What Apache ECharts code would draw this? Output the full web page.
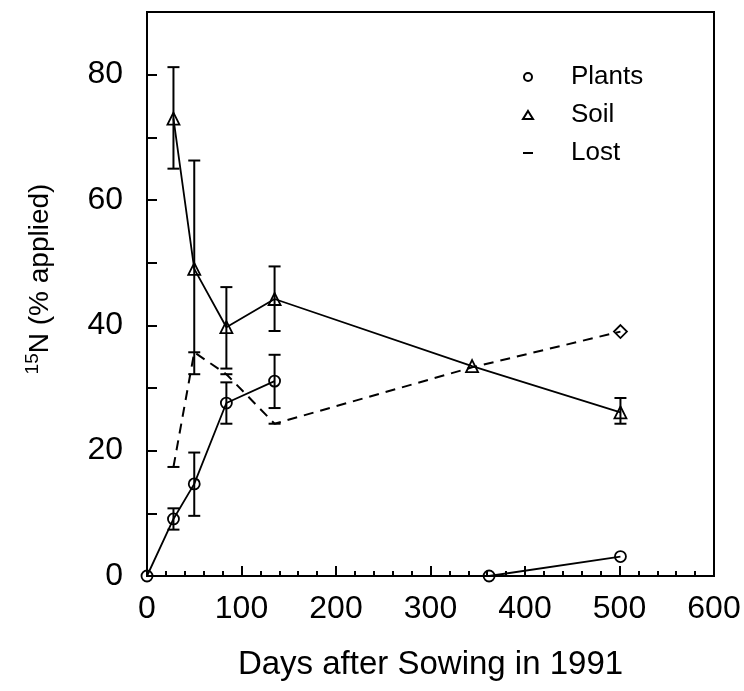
<!DOCTYPE html>
<html>
<head>
<meta charset="utf-8">
<script src="https://cdn.jsdelivr.net/npm/echarts@6/dist/echarts.min.js"></script>
<style>
  html, body { margin: 0; padding: 0; background: #fff; }
  #chart { width: 744px; height: 691px; }
</style>
</head>
<body>
<div id="chart"></div>
<script>
// values
const plantDays = [0, 28, 50, 84, 135, 362, 501]
const plantValues = [0, 9.1, 14.7, 27.6, 31.1, 0, 3.1]
const plantBreakAfter = 135 // the plants line is not drawn from 135 to 362
const soilDays = [28, 50, 84, 135, 344, 501]
const soilValues = [73.0, 49.0, 39.7, 44.2, 33.5, 26.1]
const lostDays = [28, 50, 84, 135, 344, 501]
const lostValues = [17.4, 35.7, 32.2, 24.3, 33.3, 39.0]

const plantErrDays = [28, 50, 84, 135]
const plantErrLow = [7.4, 9.6, 24.3, 26.8]
const plantErrHigh = [10.8, 19.7, 30.9, 35.3]
const soilErrDays = [28, 50, 84, 135, 501]
const soilErrLow = [65.0, 32.2, 33.1, 39.1, 24.3]
const soilErrHigh = [81.2, 66.3, 46.1, 49.4, 28.4]

const FONT = "'Liberation Sans', Arial, sans-serif"

const chart = echarts.init(document.getElementById("chart"))

const renderErrorBar = (params, api) => {
  const x = api.value(0)
  const lo = api.coord([x, api.value(1)])
  const hi = api.coord([x, api.value(2)])
  const half = 6
  const style = { stroke: "#000", lineWidth: 2 }
  return {
    type: "group",
    children: [
      { type: "line", shape: { x1: lo[0], y1: lo[1], x2: hi[0], y2: hi[1] }, style },
      { type: "line", shape: { x1: lo[0] - half, y1: lo[1], x2: lo[0] + half, y2: lo[1] }, style },
      { type: "line", shape: { x1: hi[0] - half, y1: hi[1], x2: hi[0] + half, y2: hi[1] }, style },
    ],
  }
}

const plantData = []
plantDays.forEach((d, i) => {
  plantData.push([d, plantValues[i]])
  if (d === plantBreakAfter) plantData.push([d, "-"])
})

const openStyle = { color: "rgba(0,0,0,0)", borderColor: "#000", borderWidth: 1.8 }

const lostData = lostDays.map((d, i) => {
  if (i === lostDays.length - 1) {
    return { value: [d, lostValues[i]], symbol: "diamond", symbolSize: 13, itemStyle: openStyle }
  }
  if (d === 344) {
    return { value: [d, lostValues[i]], symbol: "none" }
  }
  return { value: [d, lostValues[i]] }
})

const option = {
  backgroundColor: "#fff",
  animation: false,
  textStyle: { fontFamily: FONT, color: "#000" },
  grid: {
    left: 147,
    right: 30,
    top: 12,
    bottom: 115,
    show: true,
    borderColor: "#000",
    borderWidth: 2,
  },
  legend: {
    orient: "vertical",
    left: 517,
    top: 57,
    itemWidth: 10,
    itemHeight: 8,
    itemGap: 8,
    selectedMode: false,
    textStyle: { fontFamily: FONT, fontSize: 26, lineHeight: 30, color: "#000", padding: [0, 0, 0, 33] },
    data: [
      { name: "Plants", icon: "circle" },
      { name: "Soil", icon: "triangle" },
      { name: "Lost", icon: "path://M0,0 L10,0 L10,2 L0,2 Z" },
    ],
  },
  xAxis: {
    type: "value",
    min: 0,
    max: 600,
    interval: 100,
    name: "Days after Sowing in 1991",
    nameLocation: "middle",
    nameGap: 72,
    nameTextStyle: { fontFamily: FONT, fontSize: 33, color: "#000" },
    axisLine: { lineStyle: { color: "#000", width: 2 } },
    axisTick: { inside: true, length: 10, lineStyle: { color: "#000", width: 2 } },
    minorTick: { show: true, splitNumber: 5, length: 5, lineStyle: { color: "#000", width: 2 } },
    axisLabel: { fontFamily: FONT, fontSize: 32, color: "#000", margin: 17 },
    splitLine: { show: false },
  },
  yAxis: {
    type: "value",
    min: 0,
    max: 90,
    interval: 10,
    name: "{sup|15}{main|N (% applied)}",
    nameLocation: "middle",
    nameGap: 90,
    nameTextStyle: {
      fontFamily: FONT,
      color: "#000",
      padding: [0, 0, 0, 30],
      rich: {
        sup: { fontFamily: FONT, fontSize: 19, lineHeight: 20, verticalAlign: "top", color: "#000" },
        main: { fontFamily: FONT, fontSize: 28, lineHeight: 34, color: "#000" },
      },
    },
    axisLine: { lineStyle: { color: "#000", width: 2 } },
    axisTick: { inside: true, length: 10, lineStyle: { color: "#000", width: 2 } },
    axisLabel: {
      fontFamily: FONT,
      fontSize: 32,
      color: "#000",
      margin: 24,
      formatter: (v) => (v % 20 === 0 && v <= 80 ? String(v) : ""),
    },
    splitLine: { show: false },
  },
  series: [
    {
      name: "Plants",
      type: "line",
      clip: false,
      connectNulls: false,
      data: plantData,
      symbol: "circle",
      symbolSize: 11,
      lineStyle: { color: "#000", width: 1.8 },
      itemStyle: openStyle,
      z: 3,
    },
    {
      name: "Soil",
      type: "line",
      clip: false,
      data: soilDays.map((d, i) => [d, soilValues[i]]),
      symbol: "triangle",
      symbolSize: 12,
      lineStyle: { color: "#000", width: 1.8 },
      itemStyle: openStyle,
      z: 3,
    },
    {
      name: "Lost",
      type: "line",
      clip: false,
      data: lostData,
      symbol: "rect",
      symbolSize: [12, 2],
      symbolKeepAspect: true,
      lineStyle: { color: "#000", width: 2, type: [10, 7] },
      itemStyle: { color: "#000", borderColor: "#000", borderWidth: 0 },
      emphasis: { disabled: true },
      z: 3,
    },
    {
      name: "Plants error",
      type: "custom",
      renderItem: renderErrorBar,
      data: plantErrDays.map((d, i) => [d, plantErrLow[i], plantErrHigh[i]]),
      z: 2,
    },
    {
      name: "Soil error",
      type: "custom",
      renderItem: renderErrorBar,
      data: soilErrDays.map((d, i) => [d, soilErrLow[i], soilErrHigh[i]]),
      z: 2,
    },
  ],
}

chart.setOption(option)
</script>
</body>
</html>
